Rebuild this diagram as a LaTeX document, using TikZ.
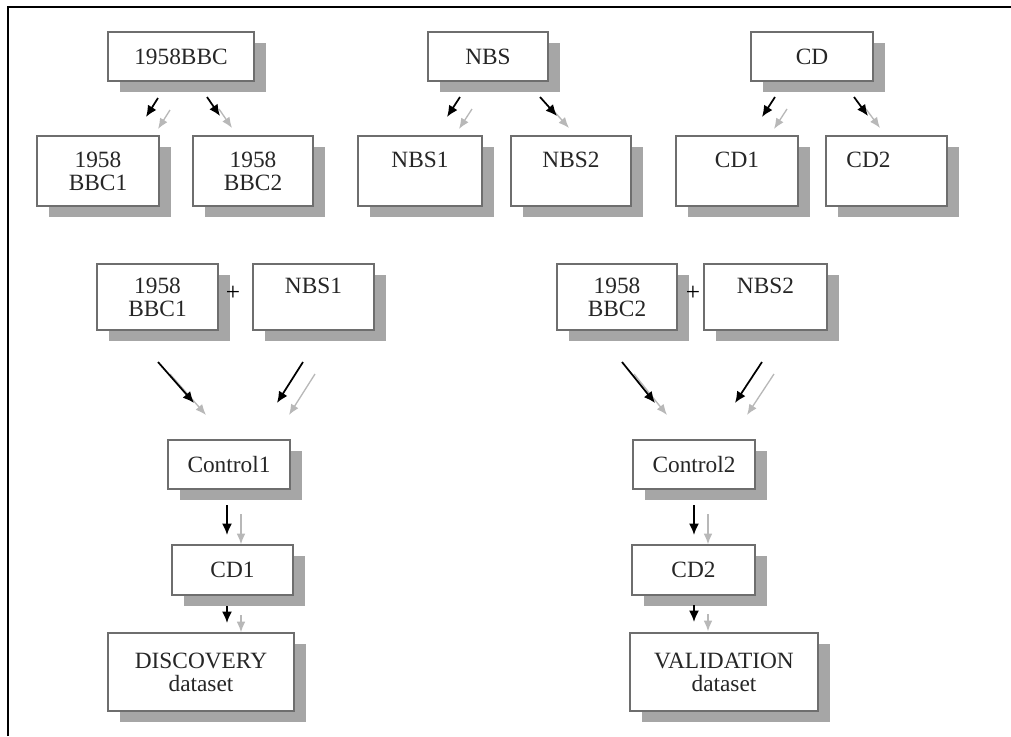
\documentclass[tikz,border=0pt]{standalone}
\usepackage{fontspec}
\setmainfont{Liberation Serif}
\usepackage{tikz}
\usetikzlibrary{arrows.meta,shadows}
\definecolor{boxline}{HTML}{6E6E6E}
\definecolor{shade}{HTML}{A6A6A6}
\definecolor{arrowgray}{HTML}{B8B8B8}
\definecolor{txt}{HTML}{262626}

\tikzset{
  box/.style 2 args={draw=boxline, line width=0.9pt, fill=white, inner sep=0pt,
    align=center, text=txt, font=\fontsize{17.5pt}{17.3pt}\selectfont,
    minimum width=#1*0.75pt, minimum height=#2*0.75pt,
    drop shadow={shadow xshift=9pt, shadow yshift=-8.25pt, fill=shade, opacity=1}},
  blackarrow/.style={line width=1.3pt, -{Latex[length=8.5pt,width=7.5pt]}},
  grayarrow/.style={line width=1pt, arrowgray, -{Latex[length=8pt,width=6.5pt]}},
}

\begin{document}
\begin{tikzpicture}[x=0.75pt,y=-0.75pt]
\useasboundingbox (0,0) rectangle (1011,736);
\draw[line width=1.7pt] (8,736) -- (8,7) -- (1011,7);

%source datasets
\node[box={146}{49}] (bbc) at (181,56.5) {1958BBC};
\node[box={120}{49}] (nbs) at (488,56.5) {NBS};
\node[box={122}{49}] (cd) at (812,56.5) {CD};

%halves
\node[box={122}{70}] (bbcI) at (98,171) {1958\\BBC1};
\node[box={120}{70}] (bbcII) at (253,171) {1958\\BBC2};
\node[box={124}{70}] (nbsI) at (420,171) {NBS1\\\mbox{}};
\node[box={120}{70}] (nbsII) at (571,171) {NBS2\\\mbox{}};
\node[box={122}{70}] (cdI) at (737,171) {CD1\\\mbox{}};
\node[box={121}{70}] (cdII) at (886.5,171) {CD2\hspace*{27pt}\\\mbox{}};

%controls
\node[box={121}{66}] (bbcIa) at (157.5,297) {1958\\BBC1};
\node[box={121}{66}] (nbsIa) at (313.5,297) {NBS1\\\mbox{}};
\node[box={120}{66}] (bbcIIa) at (617,297) {1958\\BBC2};
\node[box={123}{66}] (nbsIIa) at (765.5,297) {NBS2\\\mbox{}};
\node[text=black, font=\fontsize{19pt}{19pt}\selectfont] (plusI) at (233,293) {+};
\node[text=black, font=\fontsize{19pt}{19pt}\selectfont] (plusII) at (693,293) {+};

\node[box={122}{49}] (ctrlI) at (229,464.5) {Control1};
\node[box={122}{49}] (ctrlII) at (694,464.5) {Control2};
\node[box={121}{50}] (cdIb) at (232.5,570) {CD1};
\node[box={123}{50}] (cdIIb) at (693.5,570) {CD2};
\node[box={186}{78}] (disc) at (201,672) {DISCOVERY\\dataset};
\node[box={188}{78}] (valid) at (724,672) {VALIDATION\\dataset};

%arrow ends
\coordinate (a1s) at (158,98);  \coordinate (a1e) at (146,117);
\coordinate (a2s) at (207,97);  \coordinate (a2e) at (220,116);
\coordinate (a3s) at (460,97);  \coordinate (a3e) at (447,117);
\coordinate (a4s) at (540,97);  \coordinate (a4e) at (557,116);
\coordinate (a5s) at (775,97);  \coordinate (a5e) at (762,117);
\coordinate (a6s) at (854,97);  \coordinate (a6e) at (868,116);
\coordinate (b1s) at (158,362); \coordinate (b1e) at (194,403);
\coordinate (b2s) at (303,362); \coordinate (b2e) at (277,403);
\coordinate (b3s) at (622,362); \coordinate (b3e) at (655,403);
\coordinate (b4s) at (762,362); \coordinate (b4e) at (735,403);
\coordinate (c1s) at (227,505); \coordinate (c1e) at (227,535);
\coordinate (c2s) at (227,606); \coordinate (c2e) at (227,623);
\coordinate (c3s) at (694,505); \coordinate (c3e) at (694,535);
\coordinate (c4s) at (694,605); \coordinate (c4e) at (694,622);

\foreach \s/\e in {a1s/a1e,a2s/a2e,a3s/a3e,a4s/a4e,a5s/a5e,a6s/a6e,b1s/b1e,b2s/b2e,b3s/b3e,b4s/b4e}{
  \draw[grayarrow, transform canvas={xshift=9pt,yshift=-9pt}] (\s) -- (\e);
  \draw[blackarrow] (\s) -- (\e);
}
\foreach \s/\e in {c1s/c1e,c2s/c2e,c3s/c3e,c4s/c4e}{
  \draw[grayarrow, transform canvas={xshift=10.5pt,yshift=-7pt}] (\s) -- (\e);
  \draw[blackarrow] (\s) -- (\e);
}
\end{tikzpicture}
\end{document}
